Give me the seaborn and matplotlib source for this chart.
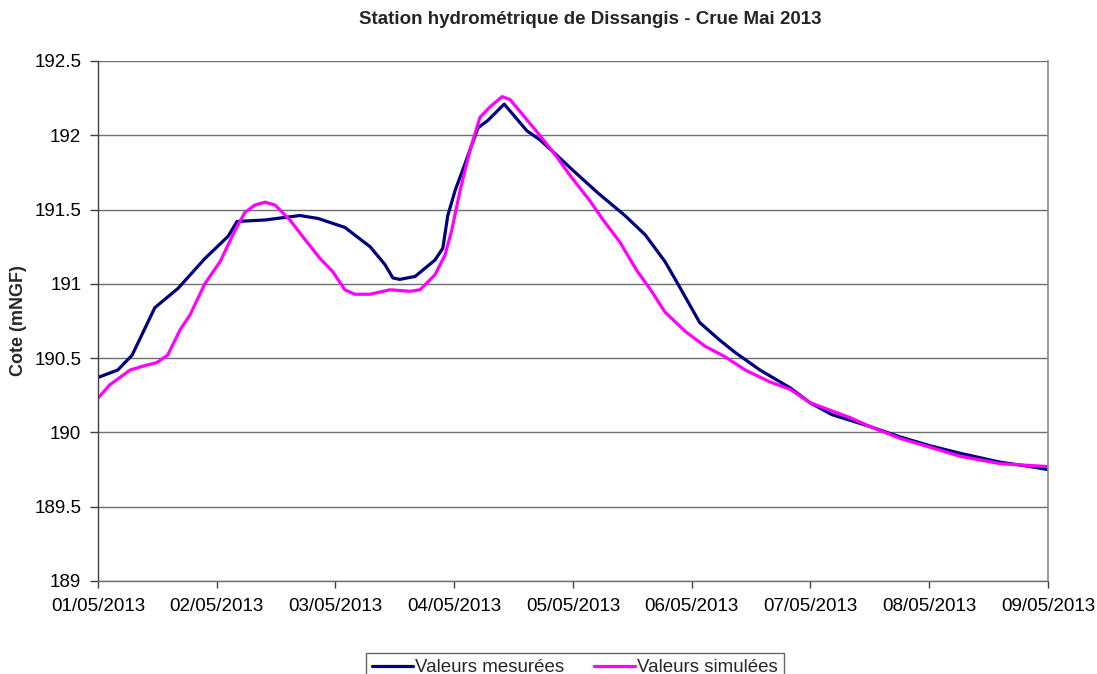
import numpy as np
import pandas as pd
import matplotlib
matplotlib.use("Agg")
import matplotlib.pyplot as plt
import matplotlib.dates as mdates
import seaborn as sns

# Measured water level (hours since 01/05/2013 00:00, level in mNGF)
mes_hours = [0, 4.0, 6.9, 11.5, 16.2, 21.6, 26.3, 28.1, 33.8, 40.8, 44.5, 49.9,
             55.0, 58.0, 59.6, 61.0, 64.1, 68.1, 69.7, 70.7, 72.2, 74.2, 76.8,
             78.8, 82.1, 86.7, 89.3, 92.6, 95.8, 101.1, 106.5, 110.6, 114.6,
             117.2, 121.6, 125.7, 128.7, 133.8, 139.9, 143.9, 148.3, 156.0,
             162.1, 168.2, 174.2, 182.3, 188.4, 192.0]
mes_level = [190.37, 190.42, 190.52, 190.84, 190.97, 191.17, 191.32, 191.42,
             191.43, 191.46, 191.44, 191.38, 191.25, 191.13, 191.04, 191.03,
             191.05, 191.16, 191.24, 191.46, 191.63, 191.81, 192.05, 192.10,
             192.21, 192.03, 191.97, 191.87, 191.77, 191.61, 191.46, 191.33,
             191.15, 191.00, 190.74, 190.62, 190.54, 190.42, 190.30, 190.20,
             190.12, 190.04, 189.97, 189.91, 189.86, 189.80, 189.77, 189.75]

# Simulated water level
sim_hours = [0, 2.4, 6.5, 9.5, 11.9, 14.1, 16.6, 18.6, 21.6, 24.7, 27.7, 29.7,
             31.7, 33.8, 35.8, 38.8, 41.8, 44.9, 47.5, 49.9, 51.9, 55.0, 59.0,
             63.1, 65.1, 68.1, 70.1, 71.5, 73.2, 75.2, 77.2, 79.2, 81.7, 83.3,
             85.3, 88.3, 92.4, 95.4, 99.4, 102.1, 105.5, 108.9, 111.7, 114.6,
             118.7, 122.7, 126.7, 130.8, 135.8, 139.9, 143.9, 147.9, 152.0,
             156.0, 162.1, 168.2, 174.2, 182.3, 192.0]
sim_level = [190.23, 190.32, 190.42, 190.45, 190.47, 190.52, 190.69, 190.79,
             191.00, 191.15, 191.36, 191.48, 191.53, 191.55, 191.53, 191.43,
             191.30, 191.17, 191.08, 190.96, 190.93, 190.93, 190.96, 190.95,
             190.96, 191.06, 191.19, 191.36, 191.63, 191.90, 192.12, 192.19,
             192.26, 192.24, 192.16, 192.04, 191.87, 191.73, 191.56, 191.43,
             191.28, 191.09, 190.96, 190.81, 190.68, 190.58, 190.51, 190.42,
             190.34, 190.29, 190.20, 190.15, 190.10, 190.04, 189.96, 189.90,
             189.84, 189.79, 189.77]

start = pd.Timestamp("2013-05-01")
df_mes = pd.DataFrame({"date": start + pd.to_timedelta(mes_hours, unit="h"),
                       "cote": mes_level})
df_sim = pd.DataFrame({"date": start + pd.to_timedelta(sim_hours, unit="h"),
                       "cote": sim_level})

sns.set_theme(style="white")
plt.rcParams["font.family"] = ["Liberation Sans", "DejaVu Sans"]

fig = plt.figure(figsize=(10.97, 6.74), dpi=100)
ax = fig.add_axes([0.0893, 0.138, 0.866, 0.7715])

sns.lineplot(data=df_mes, x="date", y="cote", ax=ax, color="#000080",
             linewidth=2.3, label="Valeurs mesurées")
sns.lineplot(data=df_sim, x="date", y="cote", ax=ax, color="#FF00FF",
             linewidth=2.3, label="Valeurs simulées")

ax.set_xlim(pd.Timestamp("2013-05-01"), pd.Timestamp("2013-05-09"))
ax.set_ylim(189, 192.5)
ax.set_yticks(np.arange(189, 192.51, 0.5))
ax.set_yticklabels(["189", "189.5", "190", "190.5", "191", "191.5", "192", "192.5"])
ax.xaxis.set_major_locator(mdates.DayLocator())
ax.xaxis.set_major_formatter(mdates.DateFormatter("%d/%m/%Y"))

ax.yaxis.grid(True, color="#6e6e6e", linewidth=1.0)
ax.xaxis.grid(False)
ax.set_axisbelow(True)

ax.spines["left"].set_color("#404040")
ax.spines["bottom"].set_color("#6e6e6e")
ax.spines["left"].set_linewidth(1.0)
ax.spines["bottom"].set_linewidth(1.0)
ax.spines["right"].set_color("#8c8c8c")
ax.spines["top"].set_visible(False)

ax.tick_params(axis="both", which="major", direction="out", width=1,
               color="#404040", labelsize=13.5, labelcolor="black",
               left=True, bottom=True)
ax.tick_params(axis="x", length=5, pad=7)
ax.tick_params(axis="y", length=6, pad=6)

ax.set_xlabel("")
ax.set_ylabel("Cote (mNGF)", fontsize=13, fontweight="bold", labelpad=5)

fig.text(590 / 1097, 1 - 20 / 674, "Station hydrométrique de Dissangis - Crue Mai 2013",
         ha="center", va="center", fontsize=13.5, fontweight="bold")

leg = ax.legend(loc="upper center", bbox_to_anchor=(575 / 1097, 1 - 644 / 674),
                bbox_transform=fig.transFigure, ncol=2, frameon=True,
                fancybox=False, fontsize=13.5, handlelength=2.2,
                handletextpad=0.1, columnspacing=1.6, borderpad=0.3)
leg.get_frame().set_edgecolor("#404040")
leg.get_frame().set_linewidth(1.0)

fig.savefig("out.png", dpi=100, facecolor="white")
